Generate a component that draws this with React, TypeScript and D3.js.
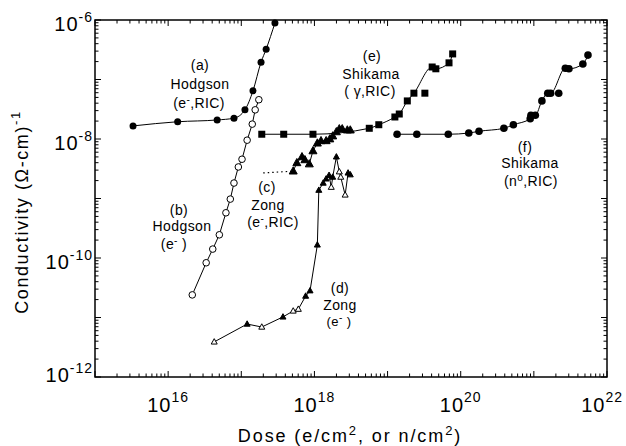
import React from 'react';
import * as d3 from 'd3';

// values are log10 of dose / conductivity
const hodgsonRicX = [15.52, 16.13, 16.67, 16.9, 17.05, 17.16, 17.27, 17.34, 17.46];
const hodgsonRicY = [-7.78, -7.71, -7.68, -7.65, -7.51, -7.19, -6.71, -6.49, -6.05];

const hodgsonEX = [16.33, 16.52, 16.61, 16.7, 16.79, 16.85, 16.9, 16.96, 17.01, 17.08, 17.15, 17.19, 17.24];
const hodgsonEY = [-10.62, -10.08, -9.85, -9.61, -9.24, -9.01, -8.74, -8.47, -8.34, -8.02, -7.75, -7.51, -7.34];

const zongRicDotX = [17.3, 17.71];
const zongRicDotY = [-8.57, -8.54];
const zongRicX = [17.71, 17.76, 17.83, 17.87, 17.93, 17.98, 18.04, 18.09, 18.16, 18.21, 18.25, 18.3, 18.34, 18.38, 18.45, 18.49];
const zongRicY = [-8.54, -8.4, -8.3, -8.35, -8.42, -8.2, -8.07, -8.03, -8.03, -8.0, -7.95, -7.88, -7.83, -7.83, -7.85, -7.85];

const zongEFilledX = [17.08, 17.57, 17.88, 17.94, 18.04, 18.06, 18.12, 18.16, 18.2, 18.25, 18.3, 18.46, 18.49];
const zongEFilledY = [-11.11, -10.99, -10.64, -10.55, -9.78, -8.86, -8.74, -8.67, -8.61, -8.64, -8.3, -8.57, -8.6];
const zongEOpenX = [16.63, 17.28, 17.71, 17.78, 18.23, 18.34, 18.36, 18.42];
const zongEOpenY = [-11.41, -11.16, -10.89, -10.86, -8.81, -8.55, -8.64, -8.94];

const shikamaGX = [17.28, 17.58, 17.98, 18.75, 18.88, 19.1, 19.16, 19.27, 19.36, 19.61, 19.66, 19.84, 19.89];
const shikamaGY = [-7.92, -7.92, -7.92, -7.82, -7.76, -7.63, -7.58, -7.36, -7.23, -6.79, -6.82, -6.72, -6.57];
const shikamaGOffX = [19.51];
const shikamaGOffY = [-7.23];

const shikamaNX = [19.13, 19.4, 19.83, 20.11, 20.25, 20.59, 20.72, 20.95, 20.96, 21.02, 21.11, 21.19, 21.23, 21.43, 21.48, 21.67, 21.74];
const shikamaNY = [-7.92, -7.92, -7.92, -7.9, -7.87, -7.82, -7.76, -7.66, -7.6, -7.6, -7.36, -7.23, -7.23, -6.81, -6.82, -6.74, -6.59];
const shikamaNOffX = [21.34];
const shikamaNOffY = [-7.23];

const xTickExps = [16, 18, 20, 22];
const yTickExps = [-6, -8, -10, -12];

const W = 626, H = 446;
const L = 95, R = 607, T = 20, B = 377;

const pts = (xs: number[], ys: number[]) => xs.map((v, i) => [Math.pow(10, v), Math.pow(10, ys[i])] as [number, number]);

export default function App() {
  const x = d3.scaleLog().domain([1e15, 1e22]).range([L, R]);
  const y = d3.scaleLog().domain([1e-12, 1e-6]).range([B, T]);
  const xt = x.ticks();
  const yt = y.ticks();
  const isMajor = (v: number) => Math.abs(Math.log10(v) - Math.round(Math.log10(v))) < 1e-6;

  const lineLin = d3.line<[number, number]>().x(d => x(d[0])).y(d => y(d[1]));
  const lineSmooth = d3.line<[number, number]>().x(d => x(d[0])).y(d => y(d[1])).curve(d3.curveMonotoneX);

  const a = pts(hodgsonRicX, hodgsonRicY);
  const b = pts(hodgsonEX, hodgsonEY);
  const cDot = pts(zongRicDotX, zongRicDotY);
  const c = pts(zongRicX, zongRicY);
  const dF = pts(zongEFilledX, zongEFilledY);
  const dO = pts(zongEOpenX, zongEOpenY);
  const dAll = [...dF, ...dO].sort((p, q) => p[0] - q[0]);
  const e = pts(shikamaGX, shikamaGY);
  const eOff = pts(shikamaGOffX, shikamaGOffY);
  const f = pts(shikamaNX, shikamaNY);
  const fOff = pts(shikamaNOffX, shikamaNOffY);

  const tri = (p: [number, number], s: number, filled: boolean, k: string) => {
    const cx = x(p[0]), cy = y(p[1]);
    const h = s * 0.9;
    return (
      <path key={k} d={`M${cx},${cy - h * 0.6}L${cx + s / 2},${cy + h * 0.4}L${cx - s / 2},${cy + h * 0.4}Z`}
        fill={filled ? '#000' : '#fff'} stroke="#000" strokeWidth={1} />
    );
  };
  const sq = (p: [number, number], s: number, k: string) => (
    <rect key={k} x={x(p[0]) - s / 2} y={y(p[1]) - s / 2} width={s} height={s} fill="#000" />
  );

  const font = 'Liberation Sans, Arial, Helvetica, sans-serif';
  const lab = (cx: number, cy: number, content: React.ReactNode, k: string, fs = 14) => (
    <text key={k} x={cx} y={cy + 5} textAnchor="middle" fontSize={fs} fontFamily={font} letterSpacing={0.4}>{content}</text>
  );
  const eMinus = (rest: string) => (<>(e<tspan fontSize={10} dy={-5}>-</tspan><tspan dy={5}>{rest}</tspan></>);

  return (
    <svg width={W} height={H} style={{ position: 'absolute', left: 0, top: 0, background: '#fff' }}>
      <rect x={0} y={0} width={W} height={H} fill="#fff" />
      {/* ticks */}
      {xt.map((v, i) => {
        const len = isMajor(v) ? 6 : 3.5;
        const px = x(v);
        return (
          <g key={'xt' + i} stroke="#000" strokeWidth={1}>
            <line x1={px} x2={px} y1={B} y2={B - len} />
            <line x1={px} x2={px} y1={T} y2={T + len} />
          </g>
        );
      })}
      {yt.map((v, i) => {
        const len = isMajor(v) ? 6 : 3.5;
        const py = y(v);
        return (
          <g key={'yt' + i} stroke="#000" strokeWidth={1}>
            <line x1={L} x2={L + len} y1={py} y2={py} />
            <line x1={R} x2={R - len} y1={py} y2={py} />
          </g>
        );
      })}
      <rect x={L} y={T} width={R - L} height={B - T} fill="none" stroke="#000" strokeWidth={1.5} />

      {/* tick labels */}
      {xTickExps.map((ex, i) => {
        const last = i === xTickExps.length - 1;
        return (
          <text key={'xl' + ex} x={last ? 623 : x(Math.pow(10, ex))} y={412} textAnchor={last ? 'end' : 'middle'} fontFamily={font} fontSize={20} letterSpacing={1}>
            10<tspan fontSize={14} dy={-10}>{ex}</tspan>
          </text>
        );
      })}
      {yTickExps.map(ex => (
        <text key={'yl' + ex} x={93} y={y(Math.pow(10, ex)) + (ex === -12 ? 5 : 11)} textAnchor="end" fontFamily={font} fontSize={20} letterSpacing={1}>
          10<tspan fontSize={14} dy={-9}>{ex}</tspan>
        </text>
      ))}

      {/* axis titles */}
      <text x={350} y={442} textAnchor="middle" fontFamily={font} fontSize={18} letterSpacing={1.9}>
        Dose  (e/cm<tspan fontSize={13} dy={-7}>2</tspan><tspan dy={7}>, or n/cm</tspan><tspan fontSize={13} dy={-7}>2</tspan><tspan dy={7}>)</tspan>
      </text>
      <text transform="translate(28,212) rotate(-90)" textAnchor="middle" fontFamily={font} fontSize={18} letterSpacing={1.6}>
        Conductivity  (Ω-cm)<tspan fontSize={13} dy={-8}>-1</tspan>
      </text>

      {/* lines */}
      <path d={lineSmooth(a) || ''} fill="none" stroke="#000" strokeWidth={1} />
      <path d={lineLin(b) || ''} fill="none" stroke="#000" strokeWidth={1} />
      <path d={lineLin(cDot) || ''} fill="none" stroke="#000" strokeWidth={1.2} strokeDasharray="1.5,3" />
      <path d={lineLin(c) || ''} fill="none" stroke="#000" strokeWidth={1} />
      <path d={lineLin(dAll) || ''} fill="none" stroke="#000" strokeWidth={1} />
      <path d={lineSmooth(e) || ''} fill="none" stroke="#000" strokeWidth={1} />
      <path d={lineSmooth(f) || ''} fill="none" stroke="#000" strokeWidth={1} />

      {/* markers */}
      {a.map((p, i) => <circle key={'a' + i} cx={x(p[0])} cy={y(p[1])} r={3.5} fill="#000" />)}
      {b.map((p, i) => <circle key={'b' + i} cx={x(p[0])} cy={y(p[1])} r={3.3} fill="#fff" stroke="#000" strokeWidth={1} />)}
      {c.map((p, i) => tri(p, 8, true, 'c' + i))}
      {dF.map((p, i) => tri(p, 6, true, 'df' + i))}
      {dO.map((p, i) => tri(p, 6, false, 'do' + i))}
      {e.map((p, i) => sq(p, 7, 'e' + i))}
      {eOff.map((p, i) => sq(p, 7, 'eo' + i))}
      {f.map((p, i) => <circle key={'f' + i} cx={x(p[0])} cy={y(p[1])} r={3.8} fill="#000" />)}
      {fOff.map((p, i) => <circle key={'fo' + i} cx={x(p[0])} cy={y(p[1])} r={3.8} fill="#000" />)}

      {/* annotations */}
      {lab(200, 65, '(a)', 'a1')}
      {lab(200, 84, 'Hodgson', 'a2')}
      {lab(199, 103, eMinus(',RIC)'), 'a3')}
      {lab(179, 210, '(b)', 'b1')}
      {lab(182, 226, 'Hodgson', 'b2')}
      {lab(174, 244, eMinus(' )'), 'b3')}
      {lab(267, 187, '(c)', 'c1')}
      {lab(268, 205, 'Zong', 'c2')}
      {lab(273, 222, eMinus(',RIC)'), 'c3')}
      {lab(340, 288, '(d)', 'd1')}
      {lab(340, 305, 'Zong', 'd2')}
      {lab(339, 321, eMinus(' )'), 'd3', 13)}
      {lab(372, 56, '(e)', 'e1')}
      {lab(371, 74, 'Shikama', 'e2')}
      {lab(370, 91, '( γ,RIC)', 'e3')}
      {lab(525, 147, '(f)', 'f1')}
      {lab(530, 163, 'Shikama', 'f2')}
      {lab(531, 181, (<>(n<tspan fontSize={10} dy={-5}>o</tspan><tspan dy={5}>,RIC)</tspan></>), 'f3')}
    </svg>
  );
}
